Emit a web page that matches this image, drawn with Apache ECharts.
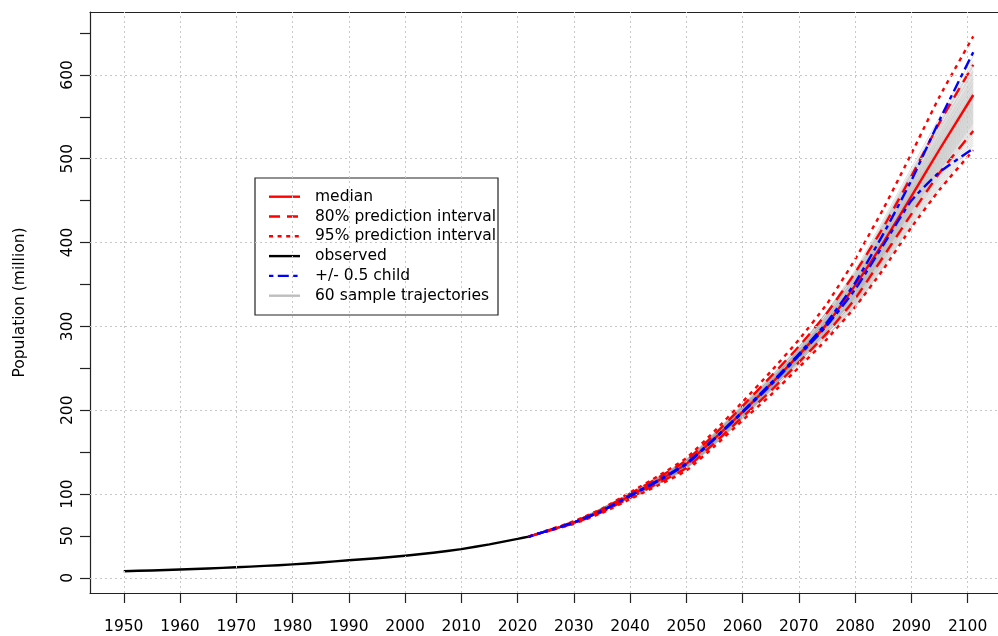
<!DOCTYPE html>
<html>
<head>
<meta charset="utf-8">
<script src="https://cdn.jsdelivr.net/npm/echarts@6/dist/echarts.min.js"></script>
<style>
html,body{margin:0;padding:0;background:#fff;}
#chart{width:998px;height:636px;}
</style>
</head>
<body>
<div id="chart"></div>
<script>
// Observed population (million)
const obsYears  = [1950, 1955, 1960, 1965, 1970, 1975, 1980, 1985, 1990, 1995, 2000, 2005, 2010, 2015, 2020, 2022];
const obsValues = [8.0, 8.9, 10.0, 11.2, 12.7, 14.3, 16.1, 18.4, 21.0, 23.5, 26.4, 30.0, 34.4, 40.0, 46.6, 49.3];

// Projection summaries
const projYears   = [2022, 2025, 2030, 2035, 2040, 2045, 2050, 2055, 2060, 2065, 2070, 2075, 2080, 2085, 2090, 2095, 2101];
const medianProj  = [49.3, 55.5, 66.0, 80.0, 98.0, 116.0, 136.0, 166.0, 198.0, 231.0, 266.0, 303.0, 349.0, 400.0, 455.0, 511.0, 576.0];
const pi80Upper   = [49.3, 55.8, 67.0, 81.5, 100.5, 119.5, 140.0, 171.0, 205.0, 240.0, 276.0, 316.0, 364.0, 418.0, 479.0, 543.0, 612.0];
const pi80Lower   = [49.3, 55.2, 65.0, 78.5, 95.5, 113.0, 131.0, 161.0, 192.0, 223.0, 257.0, 292.0, 333.0, 383.0, 434.0, 483.0, 533.0];
const pi95Upper   = [49.3, 56.0, 67.5, 82.5, 102.0, 121.5, 143.0, 175.0, 210.0, 246.0, 284.0, 327.0, 380.0, 440.0, 506.0, 574.0, 646.0];
const pi95Lower   = [49.3, 55.0, 64.5, 77.5, 94.0, 110.5, 128.0, 157.0, 188.0, 218.0, 251.0, 285.0, 323.0, 368.0, 418.0, 463.0, 510.0];
const childUpper  = [49.3, 55.5, 66.2, 80.3, 98.5, 116.5, 136.5, 166.5, 198.5, 232.0, 267.0, 305.0, 352.0, 410.0, 474.0, 546.0, 627.0];
const childLower  = [49.3, 55.5, 65.8, 79.7, 97.5, 115.5, 135.5, 165.5, 197.5, 230.0, 265.0, 301.0, 344.0, 397.0, 450.0, 484.0, 512.0];

// Sample trajectories (start from the last observed value)
const trajYears = [2030, 2040, 2050, 2060, 2070, 2080, 2090, 2101];
const trajectories = [
  [66.2, 98.4, 136.8, 199.1, 272.4, 367.4, 488.9, 622.2],
  [66.8, 100.0, 139.8, 203.5, 275.1, 365.1, 485.4, 616.8],
  [65.6, 96.8, 133.8, 194.7, 268.1, 363.7, 483.2, 613.4],
  [67.1, 100.8, 141.3, 205.7, 275.9, 362.3, 481.0, 610.0],
  [66.3, 98.8, 137.5, 200.2, 271.4, 360.8, 478.8, 606.6],
  [65.1, 95.6, 131.5, 191.4, 264.5, 360.0, 477.5, 604.6],
  [66.6, 99.6, 139.0, 202.4, 272.6, 359.4, 476.6, 603.2],
  [66.0, 98.0, 136.0, 198.0, 269.0, 358.3, 474.8, 600.5],
  [67.2, 101.2, 142.0, 206.8, 275.3, 357.4, 473.5, 598.4],
  [65.7, 97.2, 134.5, 195.8, 266.8, 356.6, 472.2, 596.4],
  [66.5, 99.2, 138.3, 201.3, 270.8, 356.0, 471.3, 595.0],
  [65.3, 96.0, 132.3, 192.5, 263.9, 355.1, 470.0, 593.0],
  [66.9, 100.4, 140.5, 204.6, 272.8, 354.3, 468.7, 591.0],
  [66.2, 98.4, 136.8, 199.1, 268.5, 353.7, 467.8, 589.6],
  [65.4, 96.4, 133.0, 193.6, 264.2, 353.1, 466.9, 588.2],
  [66.8, 100.0, 139.8, 203.5, 271.4, 352.3, 465.6, 586.2],
  [65.9, 97.6, 135.3, 196.9, 266.2, 351.7, 464.7, 584.8],
  [66.3, 98.8, 137.5, 200.2, 268.5, 350.9, 463.4, 582.8],
  [65.0, 95.2, 130.8, 190.3, 260.9, 350.3, 462.5, 581.4],
  [66.6, 99.6, 139.0, 202.4, 269.8, 349.7, 461.6, 580.1],
  [66.0, 98.0, 136.0, 198.0, 266.3, 349.1, 460.8, 578.7],
  [65.6, 96.8, 133.8, 194.7, 263.7, 348.6, 459.9, 577.4],
  [66.9, 100.4, 140.5, 204.6, 271.0, 348.0, 459.0, 576.0],
  [65.3, 96.0, 132.3, 192.5, 261.7, 347.4, 458.1, 574.6],
  [66.3, 98.8, 137.5, 200.2, 267.3, 346.9, 457.2, 573.3],
  [65.9, 97.6, 135.3, 196.9, 264.7, 346.3, 456.4, 571.9],
  [66.5, 99.2, 138.3, 201.3, 267.8, 345.7, 455.5, 570.6],
  [65.1, 95.6, 131.5, 191.4, 260.2, 345.2, 454.6, 569.2],
  [66.2, 98.4, 136.8, 199.1, 265.8, 344.6, 453.7, 567.8],
  [65.7, 97.2, 134.5, 195.8, 263.2, 344.0, 452.8, 566.5],
  [66.8, 100.0, 139.8, 203.5, 268.8, 343.4, 452.0, 565.1],
  [65.4, 96.4, 133.0, 193.6, 261.2, 342.9, 451.1, 563.8],
  [66.0, 98.0, 136.0, 198.0, 264.3, 342.3, 450.2, 562.4],
  [66.5, 99.2, 138.3, 201.3, 266.7, 341.7, 449.3, 561.0],
  [65.6, 96.8, 133.8, 194.7, 261.5, 341.2, 448.4, 559.7],
  [67.1, 100.8, 141.3, 205.7, 269.6, 340.6, 447.6, 558.3],
  [65.9, 97.6, 135.3, 196.9, 262.9, 340.0, 446.7, 557.0],
  [66.3, 98.8, 137.5, 200.2, 265.2, 339.5, 445.8, 555.6],
  [65.3, 96.0, 132.3, 192.5, 259.2, 338.9, 444.9, 554.2],
  [66.6, 99.6, 139.0, 202.4, 266.5, 338.3, 444.0, 552.9],
  [65.7, 97.2, 134.5, 195.8, 261.4, 337.7, 443.2, 551.5],
  [66.2, 98.4, 136.8, 199.1, 263.7, 337.2, 442.3, 550.2],
  [65.0, 95.2, 130.8, 190.3, 256.9, 336.6, 441.4, 548.8],
  [66.5, 99.2, 138.3, 201.3, 265.0, 336.0, 440.5, 547.4],
  [65.4, 96.4, 133.0, 193.6, 259.1, 335.5, 439.6, 546.1],
  [66.0, 98.0, 136.0, 198.0, 262.2, 334.9, 438.8, 544.7],
  [66.8, 100.0, 139.8, 203.5, 266.2, 334.3, 437.9, 543.4],
  [65.6, 96.8, 133.8, 194.7, 259.4, 333.8, 437.0, 542.0],
  [66.3, 98.8, 137.5, 200.2, 263.3, 332.9, 435.7, 540.0],
  [65.1, 95.6, 131.5, 191.4, 256.4, 332.0, 434.4, 537.9],
  [65.9, 97.6, 135.3, 196.9, 260.3, 331.2, 433.0, 535.9],
  [66.5, 99.2, 138.3, 201.3, 263.4, 330.3, 431.7, 533.8],
  [65.4, 96.4, 133.0, 193.6, 257.3, 329.5, 430.4, 531.8],
  [66.2, 98.4, 136.8, 199.1, 261.2, 328.6, 429.1, 529.8],
  [65.7, 97.2, 134.5, 195.8, 258.4, 327.5, 427.3, 527.0],
  [64.8, 94.8, 130.0, 189.2, 253.1, 326.3, 425.6, 524.3],
  [66.6, 99.6, 139.0, 202.4, 262.7, 325.2, 423.8, 521.6],
  [65.3, 96.0, 132.3, 192.5, 254.9, 324.1, 422.0, 518.9],
  [66.0, 98.0, 136.0, 198.0, 258.7, 322.9, 420.3, 516.2],
  [66.9, 100.4, 140.5, 204.6, 275.2, 362.8, 481.9, 611.4]
];

// Axis ticks and labels
const xTicks  = [1950, 1960, 1970, 1980, 1990, 2000, 2010, 2020, 2030, 2040, 2050, 2060, 2070, 2080, 2090, 2100];
const yTicks  = [0, 50, 100, 150, 200, 250, 300, 350, 400, 450, 500, 550, 600, 650];
const yLabels = [0, 50, 100, 200, 300, 400, 500, 600];
const yGrid   = [0, 100, 200, 300, 400, 500, 600];

const FONT = '"DejaVu Sans", sans-serif';
const RED = '#ff0000', BLUE = '#0000ff';
const DASH_80 = [11, 7];
const DASH_95 = [4, 4.6];
const DASH_CHILD = [4.4, 4.4, 11, 4.4];
const TRAJ_COLOR = 'rgba(150,150,150,0.32)';
const FRAME = '#222';

const pairs = (xs, ys) => xs.map((x, i) => [x, ys[i]]);
const startPoint = [obsYears[obsYears.length - 1], obsValues[obsValues.length - 1]];

function lineSeries(name, xs, ys, color, width, dash, z) {
  return {
    name, type: 'line', data: pairs(xs, ys), showSymbol: false, symbol: 'none',
    smooth: 0.15, z,
    lineStyle: { color, width, type: dash || 'solid', cap: 'butt', join: 'round' },
    emphasis: { disabled: true }, silent: true
  };
}

const series = [];

// dotted reference grid
series.push({
  type: 'line', data: [], z: 0, silent: true,
  markLine: {
    silent: true, symbol: 'none', animation: false,
    label: { show: false },
    lineStyle: { color: '#c8c8c8', width: 1, type: [2, 3] },
    data: xTicks.map(v => ({ xAxis: v })).concat(yGrid.map(v => ({ yAxis: v })))
  }
});

trajectories.forEach((row, k) => {
  series.push({
    name: 'traj' + k, type: 'line', showSymbol: false, symbol: 'none',
    data: [startPoint].concat(pairs(trajYears, row)),
    smooth: 0.2, z: 1, silent: true,
    lineStyle: { color: TRAJ_COLOR, width: 1 }
  });
});

series.push(lineSeries('observed', obsYears, obsValues, '#000', 2.4, null, 3));
series.push(lineSeries('95% upper', projYears, pi95Upper, RED, 2.4, DASH_95, 4));
series.push(lineSeries('95% lower', projYears, pi95Lower, RED, 2.4, DASH_95, 4));
series.push(lineSeries('80% upper', projYears, pi80Upper, RED, 2.4, DASH_80, 4));
series.push(lineSeries('80% lower', projYears, pi80Lower, RED, 2.4, DASH_80, 4));
series.push(lineSeries('median', projYears, medianProj, RED, 2.4, null, 5));
series.push(lineSeries('+0.5 child', projYears, childUpper, BLUE, 2.4, DASH_CHILD, 6));
series.push(lineSeries('-0.5 child', projYears, childLower, BLUE, 2.4, DASH_CHILD, 6));

// legend box
const legendItems = [
  { text: 'median', color: RED, dash: 'solid' },
  { text: '80% prediction interval', color: RED, dash: DASH_80 },
  { text: '95% prediction interval', color: RED, dash: DASH_95 },
  { text: 'observed', color: '#000', dash: 'solid' },
  { text: '+/- 0.5 child', color: BLUE, dash: DASH_CHILD },
  { text: '60 sample trajectories', color: '#bebebe', dash: 'solid' }
];
const lgX = 255, lgY = 178, rowH = 19.8, row0 = 196.7;
const legendEls = [{
  type: 'rect', shape: { x: lgX, y: lgY, width: 243, height: 137 },
  style: { fill: '#fff', stroke: FRAME, lineWidth: 1.2 }
}];
legendItems.forEach((it, i) => {
  const y = row0 + i * rowH;
  legendEls.push({
    type: 'line', shape: { x1: 269, y1: y, x2: 300, y2: y },
    style: { stroke: it.color, lineWidth: 2.4, lineDash: it.dash === 'solid' ? null : it.dash }
  });
  legendEls.push({
    type: 'text', x: 315, y: y,
    style: { text: it.text, font: '15.5px ' + FONT, fill: '#000', verticalAlign: 'middle', align: 'left' }
  });
});

const tickStyle = { color: FRAME, width: 1.2 };
const labelStyle = { color: '#000', fontFamily: FONT, fontSize: 15.5, lineHeight: 18 };

const chart = echarts.init(document.getElementById('chart'), null, { renderer: 'canvas' });
chart.setOption({
  animation: false,
  backgroundColor: '#fff',
  grid: { left: 90, top: 12, right: 0, bottom: 40, show: false },
  xAxis: [{
    type: 'value', min: 1944, max: 2105.4, position: 'bottom',
    axisLine: { show: true, onZero: false, lineStyle: tickStyle },
    splitLine: { show: false },
    axisTick: { show: true, length: 10, lineStyle: tickStyle, customValues: xTicks },
    axisLabel: Object.assign({ customValues: xTicks, margin: 25, formatter: v => String(v) }, labelStyle)
  }, {
    // top edge of the plot frame
    type: 'value', min: 1944, max: 2105.4, position: 'top',
    axisLine: { show: true, onZero: false, lineStyle: tickStyle },
    axisTick: { show: false }, axisLabel: { show: false }, splitLine: { show: false }
  }],
  yAxis: {
    type: 'value', min: -18, max: 675,
    name: 'Population (million)', nameLocation: 'middle', nameGap: 62,
    nameTextStyle: { fontFamily: FONT, fontSize: 15.5, color: '#000' },
    axisLine: { show: true, onZero: false, lineStyle: tickStyle },
    splitLine: { show: false },
    axisTick: { show: true, length: 10, lineStyle: tickStyle, customValues: yTicks },
    axisLabel: Object.assign({ customValues: yLabels, rotate: 90, margin: 13 }, labelStyle)
  },
  series,
  graphic: { elements: [{ type: 'group', z: 100, children: legendEls }] }
});
</script>
</body>
</html>
